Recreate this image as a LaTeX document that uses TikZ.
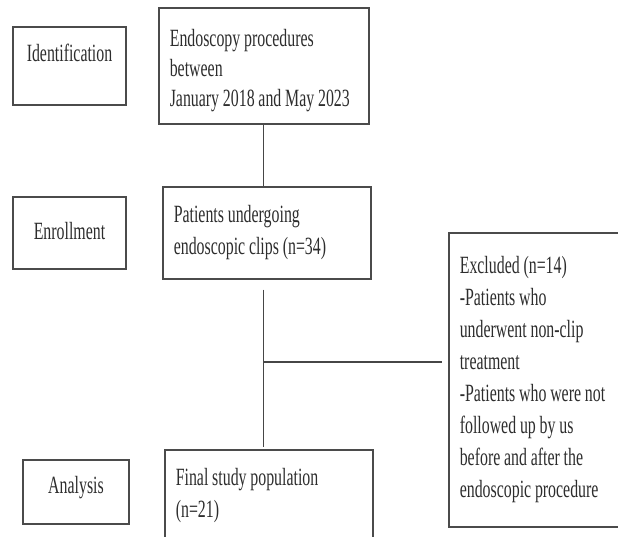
\documentclass[tikz,border=0pt]{standalone}
\usepackage{fontspec}
\setmainfont{Liberation Serif}[FakeStretch=0.64]
\usepackage{tikz}
\usetikzlibrary{calc,positioning}
\usepackage{xcolor}
\definecolor{boxgray}{RGB}{75,75,75}
\definecolor{linegray}{RGB}{70,70,70}
\definecolor{txtgray}{RGB}{45,45,45}
\newcommand{\flowfont}[1]{\fontsize{24.8}{#1}\selectfont\spaceskip=3.8pt plus 1pt minus 1pt\relax}

\begin{document}
\begin{tikzpicture}[x=1pt,y=-1pt,
  stage/.style={draw=boxgray, line width=1.6pt, rectangle, inner sep=0pt, text=txtgray, font=\flowfont{32}},
  flowbox/.style={draw=boxgray, line width=1.6pt, rectangle, anchor=north west, align=flush left, inner xsep=11pt, inner ysep=0pt, text=txtgray, font=\flowfont{32}},
  link/.style={draw=linegray, line width=1.3pt}]
  \useasboundingbox (0,0) rectangle (618,537);
  \clip (0,0) rectangle (618,537);

  % Stage labels
  \node[stage, anchor=base, minimum width=113pt, text height=35pt, text depth=43pt] (ident) at (69.5,62) {Identification};
  \node[stage, anchor=base, minimum width=113pt, text height=43pt, text depth=29pt] (enrol) at (69.5,240) {Enrollment};
  \node[stage, anchor=base, minimum width=106pt, text height=33pt, text depth=31pt] (anal) at (76,493) {Analysis};

  % Flow boxes
  \node[flowbox, text width=188pt, minimum height=116pt, font=\flowfont{30}] (endo) at (158,7) {\rule{0pt}{26pt}Endoscopy procedures\\between\\January 2018 and May 2023};
  \node[flowbox, text width=186pt, minimum height=92pt] (pat) at (162,186) {Patients undergoing\\endoscopic clips (n=34)};
  \node[flowbox, text width=186pt, minimum height=92pt] (final) at (164,449) {Final study population\\(n=21)};
  \node[flowbox, text width=180pt, minimum height=294pt] (excl) at (448,232) {Excluded (n=14)\\-Patients who\\underwent non-clip\\treatment\\-Patients who were not\\followed up by us\\before and after the\\endoscopic procedure};

  % Connectors
  \draw[link] (endo.south) -- (endo.south |- pat.north);
  \coordinate (trunk) at ($(pat.south -| endo.south)+(0,10)$);
  \coordinate (split) at (263,362);
  \draw[link] (trunk) -- ($(final.north -| endo.south)+(0,-2)$);
  \draw[link] (split) -- ($(split -| excl.west)+(-6,0)$);
\end{tikzpicture}
\end{document}
